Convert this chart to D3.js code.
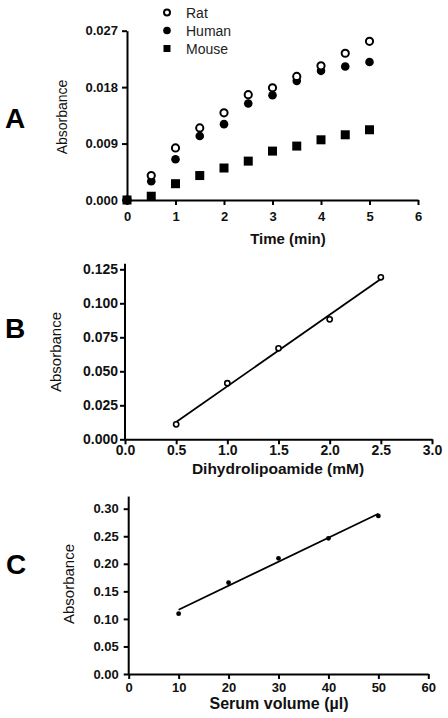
<!DOCTYPE html>
<html><head><meta charset="utf-8">
<script src="https://cdn.jsdelivr.net/npm/d3@7/dist/d3.min.js"></script>
<style>
html,body{margin:0;padding:0;background:#fff;}
svg{display:block;font-family:"Liberation Sans",Arial,sans-serif;}
</style></head>
<body>
<svg id="chart" width="448" height="718"></svg>
<script>
// ---- Panel A data ----
const timeMin = [0, 0.5, 1, 1.5, 2, 2.5, 3, 3.5, 4, 4.5, 5];
const ratA   = [0, 0.0039, 0.0083, 0.0115, 0.0139, 0.0168, 0.0179, 0.0197, 0.0214, 0.0234, 0.0253];
const humanA = [0, 0.0030, 0.0065, 0.0102, 0.0121, 0.0154, 0.0167, 0.0190, 0.0206, 0.0213, 0.0220];
const mouseA = [0, 0.0006, 0.0026, 0.0039, 0.0051, 0.0062, 0.0078, 0.0086, 0.0096, 0.0104, 0.0112];
const legendA = ["Rat", "Human", "Mouse"];
const xTicksA = [0, 1, 2, 3, 4, 5, 6];
const yTicksA = [0, 0.009, 0.018, 0.027];

// ---- Panel B data ----
const dhlConc = [0.5, 1.0, 1.5, 2.0, 2.5];
const absB    = [0.011, 0.0412, 0.0669, 0.0882, 0.1191];
const xTicksB = [0, 0.5, 1.0, 1.5, 2.0, 2.5, 3.0];
const yTicksB = [0, 0.025, 0.05, 0.075, 0.1, 0.125];

// ---- Panel C data ----
const serumVol = [10, 20, 30, 40, 50];
const absC     = [0.1094, 0.1657, 0.2100, 0.2463, 0.2868];
const xTicksC = [0, 10, 20, 30, 40, 50, 60];
const yTicksC = [0, 0.05, 0.10, 0.15, 0.20, 0.25, 0.30];

const svg = d3.select("#chart");

function styleAxis(g, fs) {
  g.select(".domain").attr("stroke", "#000").attr("stroke-width", 2);
  g.selectAll(".tick line").attr("stroke", "#000").attr("stroke-width", 2);
  g.selectAll(".tick text").attr("fill", "#111").attr("font-weight", "bold")
    .attr("font-size", fs).attr("font-family", "Liberation Sans, Arial, sans-serif");
}

function regression(xs, ys) {
  const mx = d3.mean(xs), my = d3.mean(ys);
  let num = 0, den = 0;
  xs.forEach((x, i) => { num += (x - mx) * (ys[i] - my); den += (x - mx) * (x - mx); });
  const m = num / den;
  return x => my + m * (x - mx);
}

function panelLetter(txt, x, y) {
  svg.append("text").attr("x", x).attr("y", y).attr("text-anchor", "middle")
    .attr("dominant-baseline", "central").attr("font-size", 28).attr("font-weight", "bold")
    .attr("fill", "#000").text(txt);
}
function yLabel(txt, x, y, fs) {
  svg.append("text").attr("transform", `translate(${x},${y}) rotate(-90)`)
    .attr("text-anchor", "middle").attr("dominant-baseline", "central")
    .attr("font-size", fs).attr("fill", "#111").text(txt);
}
function xLabel(txt, x, y, fs) {
  svg.append("text").attr("x", x).attr("y", y).attr("text-anchor", "middle")
    .attr("dominant-baseline", "central").attr("font-size", fs).attr("font-weight", "bold")
    .attr("fill", "#111").text(txt);
}

// ================= Panel A =================
{
  const x = d3.scaleLinear().domain([0, 6]).range([127, 418]);
  const y = d3.scaleLinear().domain([0, 0.027]).range([200, 30.7]);
  const gx = svg.append("g").attr("transform", `translate(0,${y(0)})`)
    .call(d3.axisBottom(x).tickValues(xTicksA).tickFormat(d3.format("d")).tickSize(5).tickPadding(7).tickSizeOuter(0));
  styleAxis(gx, 13);
  const gy = svg.append("g").attr("transform", `translate(${x(0)},0)`)
    .call(d3.axisLeft(y).tickValues(yTicksA).tickFormat(d3.format(".3f")).tickSize(5).tickPadding(4).tickSizeOuter(0));
  styleAxis(gy, 13);

  // Mouse squares
  svg.append("g").selectAll("rect").data(timeMin).join("rect")
    .attr("x", (d) => x(d) - 4.5).attr("y", (d, i) => y(mouseA[i]) - 4.5)
    .attr("width", 9).attr("height", 9).attr("fill", "#000");
  // Human filled circles
  svg.append("g").selectAll("circle").data(timeMin).join("circle")
    .attr("cx", d => x(d)).attr("cy", (d, i) => y(humanA[i])).attr("r", 4.3).attr("fill", "#000");
  // Rat open circles
  svg.append("g").selectAll("circle").data(timeMin).join("circle")
    .attr("cx", d => x(d)).attr("cy", (d, i) => y(ratA[i])).attr("r", 3.6)
    .attr("fill", (d, i) => ratA[i] === 0 ? "#000" : "#fff").attr("stroke", "#000").attr("stroke-width", 2);

  // legend
  const ly = d3.scalePoint().domain(legendA).range([12.5, 48.5]);
  const lg = svg.append("g");
  lg.append("circle").attr("cx", 167).attr("cy", ly("Rat")).attr("r", 3).attr("fill", "#fff").attr("stroke", "#000").attr("stroke-width", 2);
  lg.append("circle").attr("cx", 167).attr("cy", ly("Human")).attr("r", 3.8).attr("fill", "#000");
  lg.append("rect").attr("x", 163.5).attr("y", ly("Mouse") - 3.5).attr("width", 7).attr("height", 7).attr("fill", "#000");
  lg.selectAll("text").data(legendA).join("text")
    .attr("x", 186).attr("y", d => ly(d)).attr("dominant-baseline", "central")
    .attr("font-size", 14).attr("fill", "#222").text(d => d);

  yLabel("Absorbance", 62, 117, 14);
  xLabel("Time (min)", 288, 238, 15);
  panelLetter("A", 15, 118);
}

// ================= Panel B =================
{
  const x = d3.scaleLinear().domain([0, 3]).range([125, 432]);
  const y = d3.scaleLinear().domain([0, 0.125]).range([439.3, 269.3]);
  const gx = svg.append("g").attr("transform", `translate(0,${y(0)})`)
    .call(d3.axisBottom(x).tickValues(xTicksB).tickFormat(d3.format(".1f")).tickSize(5).tickPadding(1).tickSizeOuter(0));
  styleAxis(gx, 14);
  const gy = svg.append("g").attr("transform", `translate(${x(0)},0)`)
    .call(d3.axisLeft(y).tickValues(yTicksB).tickFormat(d3.format(".3f")).tickSize(5).tickPadding(2).tickSizeOuter(0));
  styleAxis(gy, 14);
  // extend y axis slightly above last tick
  gy.select(".domain").attr("d", `M0,${y(0)}V${y(0.129)}`);

  const f = regression(dhlConc, absB);
  const xr = d3.extent(dhlConc);
  svg.append("line").attr("x1", x(xr[0])).attr("y1", y(f(xr[0])))
    .attr("x2", x(xr[1])).attr("y2", y(f(xr[1]))).attr("stroke", "#000").attr("stroke-width", 1.8);
  svg.append("g").selectAll("circle").data(dhlConc).join("circle")
    .attr("cx", d => x(d)).attr("cy", (d, i) => y(absB[i])).attr("r", 2.6)
    .attr("fill", "#fff").attr("stroke", "#000").attr("stroke-width", 1.6);

  yLabel("Absorbance", 55, 352, 15);
  xLabel("Dihydrolipoamide (mM)", 278, 468, 15.5);
  panelLetter("B", 15, 328);
}

// ================= Panel C =================
{
  const x = d3.scaleLinear().domain([0, 60]).range([128.7, 428.3]);
  const y = d3.scaleLinear().domain([0, 0.3]).range([674, 508.7]);
  const gx = svg.append("g").attr("transform", `translate(0,${y(0)})`)
    .call(d3.axisBottom(x).tickValues(xTicksC).tickFormat(d3.format("d")).tickSize(5).tickPadding(4).tickSizeOuter(0));
  styleAxis(gx, 13);
  const gy = svg.append("g").attr("transform", `translate(${x(0)},0)`)
    .call(d3.axisLeft(y).tickValues(yTicksC).tickFormat(d3.format(".2f")).tickSize(5).tickPadding(5).tickSizeOuter(0));
  styleAxis(gy, 13);
  gy.select(".domain").attr("d", `M0,${y(0)}V${y(0.322)}`);

  const f = regression(serumVol, absC);
  const xr = d3.extent(serumVol);
  svg.append("line").attr("x1", x(xr[0])).attr("y1", y(f(xr[0])))
    .attr("x2", x(xr[1])).attr("y2", y(f(xr[1]))).attr("stroke", "#000").attr("stroke-width", 1.8);
  svg.append("g").selectAll("circle").data(serumVol).join("circle")
    .attr("cx", d => x(d)).attr("cy", (d, i) => y(absC[i])).attr("r", 2.4).attr("fill", "#000");

  yLabel("Absorbance", 68, 584, 15);
  xLabel("Serum volume (µl)", 279, 703, 16);
  panelLetter("C", 16, 564);
}
</script>
</body></html>
